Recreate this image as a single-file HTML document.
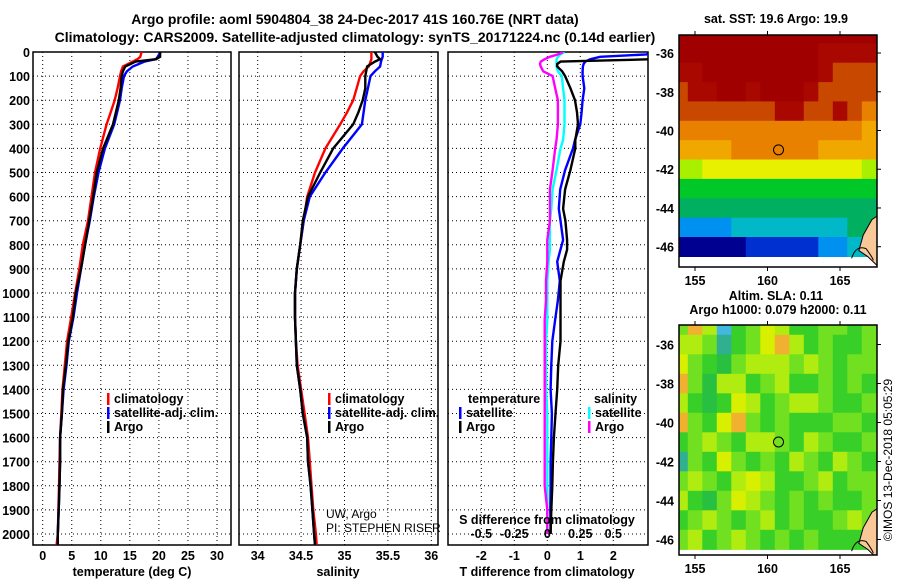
<!DOCTYPE html>
<html><head><meta charset="utf-8">
<style>
html,body{margin:0;padding:0;background:#fff;}
svg{display:block;font-family:"Liberation Sans",Arial,sans-serif;}
.t{font-weight:bold;font-size:12.5px;fill:#000;}
.h{font-weight:bold;font-size:14px;fill:#000;}
.n{font-size:12px;fill:#000;}
</style></head>
<body>
<svg id="c" width="900" height="580" viewBox="0 0 900 580"></svg>
<script>
// ---------- data ----------
const depthT = [0,20,30,40,60,80,100,150,200,250,300,400,500,600,700,800,900,1000,1100,1200,1300,1400,1500,1600,1700,1800,1900,2000,2045];
const tempArgo = [20.2,20.2,19.5,16,14.2,13.8,13.6,13.4,13.1,12.6,12.1,10.4,9.3,8.7,8.0,7.3,6.6,5.7,5.2,4.4,4.0,3.5,3.3,3.0,3.0,2.9,2.75,2.6,2.6];
const tempClim = [17,16.8,16.3,15.5,13.8,13.5,13.3,12.9,12.4,11.7,11.0,9.9,9.0,8.4,7.8,6.9,6.3,5.6,4.9,4.2,3.8,3.4,3.2,3.0,2.9,2.8,2.7,2.6,2.4];
const tempSat = [20.3,19.8,19.5,17.5,15.5,14.5,14.0,13.6,13.3,12.8,12.3,10.7,9.6,8.8,8.1,7.3,6.6,5.9,5.3,4.5,4.1,3.6,3.3,3.0,3.0,2.9,2.75,2.6,2.6];
const salArgo = [35.35,35.38,35.41,35.35,35.26,35.25,35.24,35.24,35.21,35.16,35.1,34.87,34.72,34.58,34.52,34.49,34.45,34.43,34.43,34.44,34.45,34.49,34.52,34.57,34.58,34.61,34.63,34.65,34.66];
const salClim = [35.31,35.31,35.31,35.3,35.28,35.22,35.18,35.14,35.1,35.03,34.95,34.78,34.66,34.57,34.53,34.49,34.45,34.43,34.43,34.44,34.46,34.5,34.54,34.58,34.6,34.62,34.64,34.67,34.68];
const salSat = [35.44,35.44,35.43,35.42,35.41,35.35,35.3,35.27,35.24,35.22,35.2,34.98,34.78,34.6,34.53,34.49,34.45,34.43,34.43,34.44,34.45,34.49,34.52,34.57,34.58,34.61,34.63,34.65,34.66];
const depthD = [0,10,20,30,40,50,60,80,100,150,200,250,300,365,400,490,570,650,700,780,820,870,950,1030,1110,1200,1300,1400,1500,1600,1700,1800,1900,2000];
const dTsat = [3.2,3.0,1.6,1.3,1.15,1.1,1.08,1.07,1.07,1.12,1.07,1.04,1.0,0.84,0.78,0.54,0.39,0.35,0.4,0.48,0.4,0.3,0.38,0.32,0.24,0.15,0.12,0.1,0.14,0.12,0.1,0.1,0.09,0.1];
const dTargo = [3.2,3.2,3.2,3.2,0.4,0.3,0.3,0.45,0.54,0.7,0.84,0.9,0.93,0.85,0.85,0.7,0.54,0.48,0.55,0.6,0.6,0.5,0.4,0.4,0.4,0.4,0.33,0.3,0.25,0.2,0.17,0.15,0.12,0.1];
const dSsat = [0.13,0.1,0.08,0.07,0.07,0.07,0.07,0.08,0.11,0.12,0.13,0.13,0.13,0.12,0.1,0.07,0.04,0.03,0.02,0.02,0.02,0.01,0.0,0.0,0.0,-0.01,-0.01,-0.01,0.0,0.0,0.0,0.0,0.0,0.0];
const dSargo = [0.12,0.08,0.02,-0.02,-0.05,-0.055,-0.05,-0.03,0.04,0.06,0.08,0.08,0.08,0.07,0.06,0.04,0.02,0.02,0.02,0.0,0.0,0.0,-0.01,-0.01,-0.02,-0.02,-0.02,-0.02,-0.02,-0.02,-0.02,-0.02,0.0,0.0];
const depthTicks = [0,100,200,300,400,500,600,700,800,900,1000,1100,1200,1300,1400,1500,1600,1700,1800,1900,2000];
const tTicks = [0,5,10,15,20,25,30];
const sTicks = [34,34.5,35,35.5,36];
const sTickLabels = ["34","34.5","35","35.5","36"];
const dtTicks = [-2,-1,0,1,2];
const dsTicks = [-0.5,-0.25,0,0.25,0.5];
const dsTickLabels = ["-0.5","-0.25","0","0.25","0.5"];
const mapLons = [154,155,156,157,158,159,160,161,162,163,164,165,166,167];
const mapLats = [-35,-36,-37,-38,-39,-40,-41,-42,-43,-44,-45,-46];
const lonTicks = [155,160,165];
const latTicks = [-36,-38,-40,-42,-44,-46];
const sst = [
[20,20,20,20,20,20,20,20,20,20,20,20,20,20],
[20,20,20,20,20,20,20,20,20,20,19.5,19,19,19],
[19,19.5,20,20,20,20,20,20,20,20,19,18.5,18.5,18.5],
[18.5,19,19,20,20,19.5,20,20,20,19,18.5,18,18,18],
[18,18,18.5,18.5,18.5,18,18.5,19.5,19.5,18.5,18.5,19,18.5,17.5],
[17,17,17,17,17,17.5,17.5,17.5,17.5,17.5,17.5,17,17,16.5],
[16,16,16.5,16.5,17,17,17,17,17,17,16.5,16.5,16.5,16],
[14.5,14.5,15,15.5,15.5,15.5,15.5,15.5,15.5,15.5,15.5,15.5,15,14.5],
[13,13,13,13,13,13,13,13,13,13,13,13,13,13],
[12,12,12,12,12.5,12.5,12.5,12.5,12.5,12.5,12.5,12.5,12.5,12.5],
[10,10,10.5,10.5,11,11,11,11,11,11,11,11.5,12,12],
[8.5,8.5,8,8,8.5,9,9.5,9.5,9,9,10,10,11,11]];
const sla = [
[0.05,0.2,0.1,-0.15,0,0.05,0.15,0.1,0.0,0.0,0.05,0.05,0.0,0.05],
[0.1,0.1,0.05,-0.1,0.0,0.05,0.15,0.2,0.1,0.0,0.05,0.0,0.0,0.05],
[0.15,0.05,0.0,-0.05,0.05,0.1,0.1,0.1,0.05,0.1,0.05,0.0,0.05,0.05],
[0.2,0.05,-0.05,0.1,0.1,0.0,0.05,0.1,0.0,0.0,0.05,0.0,0.05,0.0],
[0.1,0.0,-0.05,0.0,0.15,0.1,0.0,0.05,0.1,0.1,0.05,0.0,0.0,0.05],
[0.2,0.05,0.0,0.15,0.2,0.05,0.0,0.05,0.0,0.0,0.0,0.05,0.05,0.0],
[0.0,0.05,0.1,0.05,0.0,0.1,0.1,0.05,0.0,0.1,0.05,0.0,0.0,0.05],
[-0.1,0.05,0.0,0.15,0.05,0.0,0.05,0.0,0.1,0.05,0.0,0.1,0.05,0.0],
[0.05,0.1,0.05,0.0,0.1,0.15,0.1,0.0,0.0,0.05,0.1,0.0,0.05,0.05],
[0.1,0.0,-0.05,0.05,0.15,0.1,0.05,0.0,0.05,0.0,0.05,0.0,0.0,0.05],
[0.0,0.05,0.1,0.05,0.0,0.05,0.1,0.0,0.05,0.0,0.0,0.05,0.1,0.05],
[0.05,0.1,0.0,0.05,0.1,0.05,0.0,0.05,0.0,0.05,0.0,0.0,0.0,0.0]];

// ---------- helpers ----------
const svg = document.getElementById('c');
const NS = 'http://www.w3.org/2000/svg';
function mk(tag, attrs, parent){ const e=document.createElementNS(NS,tag); for(const k in attrs) e.setAttribute(k,attrs[k]); (parent||svg).appendChild(e); return e; }
function txt(x,y,s,cls,anchor,parent){ const e=mk('text',{x:x,y:y,class:cls,'text-anchor':anchor||'start'},parent); e.textContent=s; return e; }
const yD = d => 52 + d*0.241;
const PT = 52, PB = 545;
const xT = v => 42.7 + 5.81*v;
const xS = v => 257.7 + 86.8*(v-34);
const xDT = v => 547.3 + 33*v;
const xDS = v => 547.3 + 132*v;

function panel(name,x0,x1,xs,xticks,xlabels){
  const g = mk('g',{});
  
  
  const clip = mk('clipPath',{id:'clip-'+name},g);
  mk('rect',{x:x0,y:PT,width:x1-x0,height:PB-PT},clip);
  xticks.forEach(v=>{ const l=mk('line',{x1:xs(v),x2:xs(v),y1:PT,y2:PB,stroke:'#000','stroke-dasharray':'1 3','stroke-width':1},g);
      });
  depthTicks.forEach(d=>{ const l=mk('line',{x1:x0,x2:x1,y1:yD(d),y2:yD(d),stroke:'#000','stroke-dasharray':'1 3','stroke-width':1},g);
      });
  if(xlabels){ xticks.forEach((v,i)=>{ const t=txt(xs(v),560,xlabels[i],'t','middle',g);
      }); }
  const f = mk('rect',{x:x0,y:PT,width:x1-x0,height:PB-PT,fill:'none',stroke:'#000','stroke-width':1.5},g);
   
  return g;
}
function series(g,name,depths,vals,xs,color,clipId){
  const pts=[]; for(let i=0;i<vals.length;i++){ pts.push(xs(vals[i]).toFixed(1)+','+yD(depths[i]).toFixed(1)); }
  const p = mk('polyline',{points:pts.join(' '),fill:'none',stroke:color,'stroke-width':2.4,'clip-path':'url(#'+clipId+')'},g);
  
  
}
function legendEntry(g,x,y,color,label,name){
  const r = mk('rect',{x:x,y:y-10,width:2.5,height:12,fill:color},g);
   
  const t = txt(x+7,y,label,'t','start',g);
   
}

// ---------- titles ----------
let e = txt(355,24,'Argo profile: aoml 5904804_38 24-Dec-2017 41S 160.76E (NRT data)','h','middle');
 
e = txt(355,42,'Climatology: CARS2009. Satellite-adjusted climatology: synTS_20171224.nc (0.14d earlier)','h','middle');
 

// depth labels
depthTicks.forEach(d=>{ const t=txt(30,yD(d)+5,String(d),'t','end');
    });

// ---------- panel 1: temperature ----------
const g1 = panel('temperature-panel',33,231,xT,tTicks,tTicks.map(String));
series(g1,'temp-climatology-line',depthT,tempClim,xT,'#ff0000','clip-temperature-panel');
series(g1,'temp-satellite-line',depthT,tempSat,xT,'#0000ff','clip-temperature-panel');
series(g1,'temp-argo-line',depthT,tempArgo,xT,'#000000','clip-temperature-panel');
legendEntry(g1,107,403,'#ff0000','climatology','legend-climatology');
legendEntry(g1,107,417,'#0000ff','satellite-adj. clim.','legend-satellite');
legendEntry(g1,107,431,'#000000','Argo','legend-argo');
e = txt(132,576,'temperature (deg C)','t','middle');  

// ---------- panel 2: salinity ----------
const g2 = panel('salinity-panel',239,438,xS,sTicks,sTickLabels);
series(g2,'sal-climatology-line',depthT,salClim,xS,'#ff0000','clip-salinity-panel');
series(g2,'sal-satellite-line',depthT,salSat,xS,'#0000ff','clip-salinity-panel');
series(g2,'sal-argo-line',depthT,salArgo,xS,'#000000','clip-salinity-panel');
legendEntry(g2,328,403,'#ff0000','climatology','legend-climatology');
legendEntry(g2,328,417,'#0000ff','satellite-adj. clim.','legend-satellite');
legendEntry(g2,328,431,'#000000','Argo','legend-argo');
e = txt(326,518,'UW, Argo','n');  
e = txt(326,532,'PI: STEPHEN RISER','n');  
e = txt(338,576,'salinity','t','middle');  

// ---------- panel 3: differences ----------
const g3 = panel('difference-panel',448,648,xDT,dtTicks,dtTicks.map(String));
series(g3,'dS-satellite-line',depthD,dSsat,xDS,'#00ffff','clip-difference-panel');
series(g3,'dS-argo-line',depthD,dSargo,xDS,'#ff00ff','clip-difference-panel');
series(g3,'dT-satellite-line',depthD,dTsat,xDT,'#0000ff','clip-difference-panel');
series(g3,'dT-argo-line',depthD,dTargo,xDT,'#000000','clip-difference-panel');
e = txt(468,403,'temperature','t');  
legendEntry(g3,459,417,'#0000ff','satellite','legend-t-satellite');
legendEntry(g3,459,431,'#000000','Argo','legend-t-argo');
e = txt(594,403,'salinity','t');  
legendEntry(g3,588,417,'#00ffff','satellite','legend-s-satellite');
legendEntry(g3,588,431,'#ff00ff','Argo','legend-s-argo');
e = txt(547,524,'S difference from climatology','t','middle');  
dsTicks.forEach((v,i)=>{ const t=txt(xDS(v),538,dsTickLabels[i],'t','middle');   });
e = txt(547,576,'T difference from climatology','t','middle');  

// ---------- maps ----------
function sstColor(v){
  const stops=[[8,'#000090'],[9,'#0030d0'],[10,'#0090f0'],[11,'#00b8c8'],[12,'#00b060'],[13,'#00c828'],[14,'#a8f000'],[15,'#e8f000'],[16,'#f0a800'],[17,'#e88000'],[18,'#c84800'],[19,'#a80800'],[20,'#a00000']];
  let c=stops[0][1]; for(const s of stops){ if(v>=s[0]-0.25) c=s[1]; } return c;
}
function slaColor(v){
  const stops=[[-0.2,'#40b8e0'],[-0.12,'#30b090'],[-0.05,'#28c040'],[0,'#38d028'],[0.04,'#70e020'],[0.08,'#b0ec10'],[0.12,'#d8f000'],[0.17,'#f0d800'],[0.2,'#f0b030']];
  let c=stops[0][1]; for(const s of stops){ if(v>=s[0]) c=s[1]; } return c;
}
function map(name,top,bottom,latTop,pxLat,grid,colorFn,title1,title2){
  const L=679,R=877;
  const xL = lon => 695 + (lon-155)*14.5;
  const yL = lat => top + (latTop-lat)*pxLat;
  const g = mk('g',{});
  
  
  const clip = mk('clipPath',{id:'clip-'+name},g);
  mk('rect',{x:L,y:top,width:R-L,height:bottom-top},clip);
  const cg = mk('g',{'clip-path':'url(#clip-'+name+')'},g);
  for(let r=0;r<mapLats.length;r++){
    for(let c=0;c<mapLons.length;c++){
      const x=xL(mapLons[c]-0.5), y=yL(mapLats[r]+0.5);
      const cell = mk('rect',{x:x.toFixed(1),y:y.toFixed(1),width:15,height:(pxLat+0.6).toFixed(1),fill:colorFn(grid[r][c])},cg);
      
      
    }
  }
  const land = mk('path',{d:`M${xL(166.3)},${yL(-46.2)} L${xL(166.6)},${yL(-45.4)} L${xL(167.2)},${yL(-44.6)} L${xL(167.6)},${yL(-44.4)} L${xL(167.6)},${yL(-47)} L${xL(166.9)},${yL(-46.5)} Z`,fill:'#f8c898',stroke:'#000','stroke-width':1},cg);
   
  mk('path',{d:`M${xL(165.8)},${yL(-46.6)} Q${xL(166.1)},${yL(-45.9)} ${xL(166.8)},${yL(-46.1)} Q${xL(167.2)},${yL(-46.5)} ${xL(167.3)},${yL(-46.7)}`,fill:'none',stroke:'#000','stroke-width':1},cg);
  const m = mk('circle',{cx:xL(160.76),cy:yL(-41),r:5,fill:'none',stroke:'#000','stroke-width':1},g);
   
  const f = mk('rect',{x:L,y:top,width:R-L,height:bottom-top,fill:'none',stroke:'#000','stroke-width':1.5},g);
   
  latTicks.forEach(v=>{ const y=yL(v); mk('line',{x1:R,x2:R+4,y1:y,y2:y,stroke:'#000'},g);
    const t=txt(L-5,y+5,String(v),'t','end',g);   });
  lonTicks.forEach(v=>{ const x=xL(v); mk('line',{x1:x,x2:x,y1:top-4,y2:top,stroke:'#000'},g);
    mk('line',{x1:x,x2:x,y1:bottom,y2:bottom+4,stroke:'#000'},g);
    const t=txt(x,bottom+18,String(v),'t','middle',g);   });
  let t = txt(776,title2?top-25:top-12,title1,'t','middle',g);  
  if(title2){ t=txt(778,top-11,title2,'t','middle',g);   }
}
map('sst-map',35,267,-35.07,19.37,sst,sstColor,'sat. SST: 19.6 Argo: 19.9');
map('sla-map',325,555,-35.0,19.5,sla,slaColor,'Altim. SLA: 0.11','Argo h1000: 0.079 h2000: 0.11');
e = mk('text',{x:0,y:0,class:'n','text-anchor':'middle',transform:'translate(892,460) rotate(-90)'});
e.textContent='©IMOS 13-Dec-2018 05:05:29';
 
</script>
</body></html>
